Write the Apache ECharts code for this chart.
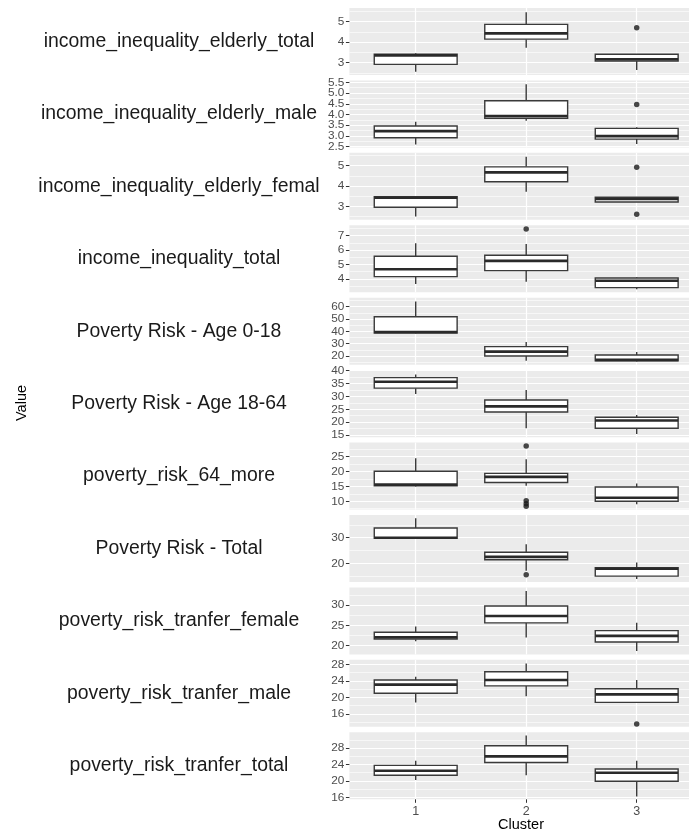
<!DOCTYPE html>
<html><head><meta charset="utf-8">
<script src="https://cdn.jsdelivr.net/npm/echarts@6/dist/echarts.min.js"></script>
<style>html,body{margin:0;padding:0;background:#fff}#c{width:689px;height:832px}</style>
</head><body><div id="c"></div>
<script>
// ---------------- DATA ----------------
const clusters = ['1', '2', '3'];
const facetLabels = [
  'income_inequality_elderly_total',
  'income_inequality_elderly_male',
  'income_inequality_elderly_femal',
  'income_inequality_total',
  'Poverty Risk - Age 0-18',
  'Poverty Risk - Age 18-64',
  'poverty_risk_64_more',
  'Poverty Risk - Total',
  'poverty_risk_tranfer_female',
  'poverty_risk_tranfer_male',
  'poverty_risk_tranfer_total'
];
// per facet, per cluster (1,2,3)
const whiskerLow = [
  [2.56, 3.73, 2.64], [2.60, 3.71, 2.62], [2.49, 3.72, 3.21], [3.65, 3.81, 3.29],
  [38.2, 16.2, 15.6], [30.9, 17.6, 15.4], [15.0, 15.2, 9.0], [29.8, 17.1, 13.9],
  [21.1, 22.0, 18.7], [18.8, 20.3, 18.8], [20.2, 21.4, 16.2]
];
const q1 = [
  [2.92, 4.15, 3.08], [2.91, 3.82, 2.85], [2.95, 4.21, 3.21], [4.16, 4.58, 3.40],
  [38.7, 20.0, 16.0], [33.2, 23.9, 17.6], [15.2, 16.3, 10.0], [29.8, 21.4, 15.0],
  [21.6, 25.6, 20.9], [21.0, 22.8, 18.8], [21.4, 24.5, 19.9]
];
const median = [
  [3.36, 4.43, 3.17], [3.22, 3.93, 2.99], [3.42, 4.67, 3.36], [4.67, 5.25, 3.88],
  [39.5, 23.5, 16.8], [35.7, 26.1, 20.6], [15.6, 18.2, 11.2], [30.0, 22.5, 17.9],
  [22.05, 27.3, 22.4], [23.1, 24.2, 20.75], [22.5, 26.0, 22.0]
];
const q3 = [
  [3.41, 4.87, 3.41], [3.46, 4.64, 3.35], [3.47, 4.94, 3.44], [5.57, 5.64, 4.07],
  [51.9, 27.6, 20.8], [37.3, 28.6, 21.9], [20.1, 19.4, 14.8], [33.8, 24.3, 18.3],
  [23.3, 29.75, 23.7], [24.2, 26.2, 22.1], [23.8, 28.6, 22.9]
];
const whiskerHigh = [
  [3.46, 5.46, 3.41], [3.66, 5.41, 3.40], [3.48, 5.44, 3.46], [6.47, 6.42, 4.12],
  [64.3, 31.4, 23.3], [38.5, 32.5, 22.8], [24.5, 24.1, 16.0], [37.6, 27.4, 20.3],
  [24.7, 33.4, 25.6], [25.0, 28.2, 24.2], [24.96, 31.1, 24.96]
];
// [facet index, cluster, value]
const outliers = [
  [0, 3, 4.70], [1, 3, 4.47], [2, 3, 4.92], [2, 3, 2.61], [3, 2, 7.46],
  [6, 2, 28.6], [6, 2, 10.2], [6, 2, 9.2], [6, 2, 8.3], [7, 2, 15.5], [9, 3, 13.6]
];
const yTickLabels = [
  ['3', '4', '5'],
  ['2.5', '3.0', '3.5', '4.0', '4.5', '5.0', '5.5'],
  ['3', '4', '5'],
  ['4', '5', '6', '7'],
  ['20', '30', '40', '50', '60'],
  ['15', '20', '25', '30', '35', '40'],
  ['10', '15', '20', '25'],
  ['20', '30'],
  ['20', '25', '30'],
  ['16', '20', '24', '28'],
  ['16', '20', '24', '28']
];
const yMinorTicks = [
  [2.5, 3.5, 4.5, 5.5],
  [2.75, 3.25, 3.75, 4.25, 4.75, 5.25],
  [2.5, 3.5, 4.5, 5.5],
  [3.5, 4.5, 5.5, 6.5, 7.5],
  [15, 25, 35, 45, 55, 65],
  [17.5, 22.5, 27.5, 32.5, 37.5],
  [7.5, 12.5, 17.5, 22.5, 27.5],
  [15, 25, 35],
  [22.5, 27.5, 32.5],
  [14, 18, 22, 26],
  [18, 22, 26, 30]
];
const yLimits = [
  [2.40, 5.67], [2.46, 5.59], [2.33, 5.63], [3.08, 7.71], [12.9, 67.3], [14.15, 40.2],
  [7.2, 29.75], [12.7, 38.85], [17.85, 34.3], [12.9, 29.07], [15.5, 31.9]
];

// ---------------- LAYOUT ----------------
const TOP0 = 8, STEP = 72.43, PH = 67, LEFT = 349.4, PW = 353.6;
const FONT = '"Liberation Sans", Arial, sans-serif';
const n = facetLabels.length;

const grids = [], xAxes = [], yAxes = [], series = [], graphics = [];

function majorAxis(i, labels) {
  const vals = labels.map(Number);
  return {
    type: 'value', gridIndex: i, min: yLimits[i][0], max: yLimits[i][1], position: 'left',
    axisLine: {show: false},
    axisTick: {show: true, customValues: vals, length: 3.5, lineStyle: {color: '#333333', width: 1}},
    axisLabel: {show: true, customValues: vals, margin: 5, color: '#4D4D4D', fontSize: 11.8,
      fontFamily: FONT, showMinLabel: true, showMaxLabel: true,
      formatter: v => { const k = vals.findIndex(t => Math.abs(t - v) < 1e-9); return k >= 0 ? labels[k] : ''; }},
    splitLine: {show: true, lineStyle: {color: '#FFFFFF', width: 1.2}}
  };
}

for (let i = 0; i < n; i++) {
  const top = TOP0 + STEP * i;
  const last = i === n - 1;
  grids.push({left: LEFT, top: top, width: PW, height: PH, show: true,
    backgroundColor: '#EBEBEB', borderWidth: 0, containLabel: false, outerBoundsMode: 'none'});
  xAxes.push({
    type: 'value', gridIndex: i, min: 0.4, max: 3.6,
    axisLine: {show: false},
    axisTick: {show: last, customValues: [1, 2, 3], length: 3.5, lineStyle: {color: '#333333', width: 1}},
    axisLabel: {show: last, customValues: [1, 2, 3], margin: 6, color: '#4D4D4D', fontSize: 12.5, fontFamily: FONT,
      showMinLabel: true, showMaxLabel: true,
      formatter: v => clusters[Math.round(v) - 1]},
    splitLine: {show: true, lineStyle: {color: '#FFFFFF', width: 1.2}}
  });
  // major ticks split over two axes (alternating) so dense labels are not dropped
  const labels = yTickLabels[i];
  const even = labels.filter((_, k) => k % 2 === 0);
  const odd = labels.filter((_, k) => k % 2 === 1);
  const baseIdx = yAxes.length;
  yAxes.push(majorAxis(i, even));
  if (odd.length) yAxes.push(majorAxis(i, odd));
  yAxes.push({
    type: 'value', gridIndex: i, min: yLimits[i][0], max: yLimits[i][1], position: 'left',
    axisLine: {show: false},
    axisTick: {show: false, customValues: yMinorTicks[i]},
    axisLabel: {show: false, customValues: yMinorTicks[i]},
    splitLine: {show: true, lineStyle: {color: '#FFFFFF', width: 0.6}}
  });
  const boxData = [0, 1, 2].map(c => [c + 1, whiskerLow[i][c], q1[i][c], median[i][c], q3[i][c], whiskerHigh[i][c]]);
  series.push({
    type: 'custom', xAxisIndex: i, yAxisIndex: baseIdx, data: boxData, z: 5,
    encode: {x: 0, y: [1, 2, 3, 4, 5]},
    renderItem: function (params, api) {
      const x = api.value(0);
      const pLo = api.coord([x, api.value(1)]);
      const pQ1 = api.coord([x, api.value(2)]);
      const pMed = api.coord([x, api.value(3)]);
      const pQ3 = api.coord([x, api.value(4)]);
      const pHi = api.coord([x, api.value(5)]);
      const half = api.size([0.75, 0])[0] / 2;
      const cx = pMed[0];
      const st = {stroke: '#3A3A3A', lineWidth: 1.4};
      return {type: 'group', children: [
        {type: 'line', shape: {x1: cx, y1: pHi[1], x2: cx, y2: pQ3[1]}, style: st},
        {type: 'line', shape: {x1: cx, y1: pQ1[1], x2: cx, y2: pLo[1]}, style: st},
        {type: 'rect', shape: {x: cx - half, y: pQ3[1], width: 2 * half, height: pQ1[1] - pQ3[1]},
          style: {fill: '#FFFFFF', stroke: '#3A3A3A', lineWidth: 1.4}},
        {type: 'line', shape: {x1: cx - half, y1: pMed[1], x2: cx + half, y2: pMed[1]},
          style: {stroke: '#2A2A2A', lineWidth: 2.6}}
      ]};
    }
  });
  const pts = outliers.filter(o => o[0] === i).map(o => [o[1], o[2]]);
  series.push({
    type: 'scatter', xAxisIndex: i, yAxisIndex: baseIdx, data: pts, z: 6,
    symbol: 'circle', symbolSize: 5.5, itemStyle: {color: '#1A1A1A'}, silent: true
  });
  graphics.push({type: 'text', x: 179, y: top + PH / 2,
    style: {text: facetLabels[i], align: 'center', verticalAlign: 'middle', fontSize: 19.4, fontFamily: FONT, fill: '#1A1A1A'}});
}
graphics.push({type: 'text', x: 22, y: 403, rotation: Math.PI / 2,
  style: {text: 'Value', align: 'center', verticalAlign: 'middle', fontSize: 14.5, fontFamily: FONT, fill: '#000000'}});
graphics.push({type: 'text', x: 521, y: 825,
  style: {text: 'Cluster', align: 'center', verticalAlign: 'middle', fontSize: 14.5, fontFamily: FONT, fill: '#000000'}});

const chart = echarts.init(document.getElementById('c'), null, {renderer: 'canvas'});
chart.setOption({
  animation: false,
  backgroundColor: '#FFFFFF',
  grid: grids, xAxis: xAxes, yAxis: yAxes, series: series, graphic: graphics
});
</script></body></html>
